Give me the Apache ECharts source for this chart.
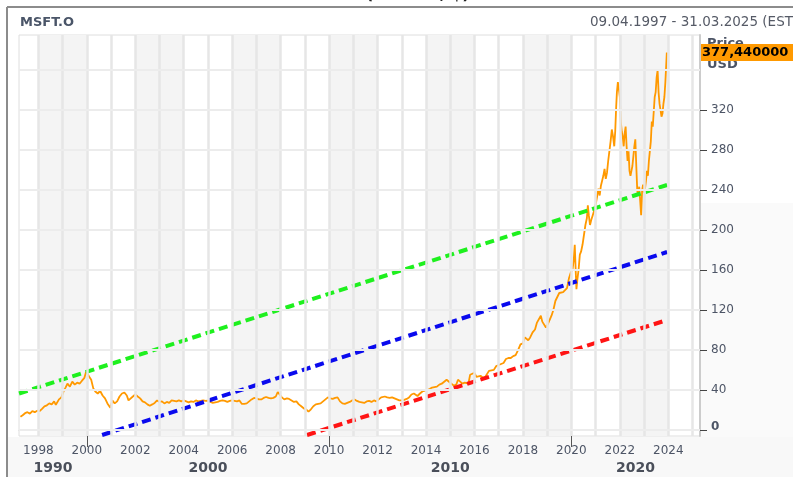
<!DOCTYPE html>
<html>
<head>
<meta charset="utf-8">
<script src="https://cdn.jsdelivr.net/npm/echarts@6/dist/echarts.min.js"></script>
<style>
html,body{margin:0;padding:0;background:#fff;}
#chartDiv{width:793px;height:477px;}
</style>
</head>
<body>
<div id="chartDiv"></div>
<script>
// MSFT.O close (decimal year / USD)
var priceYears = [1997.26,1997.35,1997.45,1997.55,1997.65,1997.75,1997.85,1997.95,1998.05,1998.15,1998.25,1998.35,1998.45,1998.55,1998.65,1998.72,1998.85,1998.95,
  1999.05,1999.12,1999.2,1999.3,1999.4,1999.5,1999.6,1999.7,1999.8,1999.9,1999.97,2000.02,2000.1,2000.18,2000.27,2000.35,2000.45,2000.55,2000.65,2000.75,2000.85,2000.97,
  2001.05,2001.15,2001.25,2001.35,2001.45,2001.55,2001.65,2001.72,2001.8,2001.9,2002.0,2002.1,2002.2,2002.3,2002.4,2002.5,2002.6,2002.7,2002.8,2002.9,
  2003.0,2003.1,2003.2,2003.3,2003.4,2003.5,2003.6,2003.7,2003.8,2003.9,2004.0,2004.1,2004.2,2004.3,2004.4,2004.5,2004.6,2004.7,2004.8,2004.9,
  2005.0,2005.1,2005.2,2005.3,2005.4,2005.5,2005.6,2005.7,2005.8,2005.9,2006.0,2006.1,2006.2,2006.3,2006.4,2006.5,2006.6,2006.7,2006.8,2006.9,
  2007.0,2007.1,2007.2,2007.3,2007.4,2007.5,2007.6,2007.7,2007.8,2007.88,2007.95,2008.05,2008.15,2008.26,2008.35,2008.45,2008.55,2008.65,2008.75,2008.85,2008.95,
  2009.05,2009.15,2009.25,2009.35,2009.45,2009.55,2009.65,2009.75,2009.85,2009.95,2010.05,2010.15,2010.25,2010.35,2010.45,2010.55,2010.65,2010.75,2010.85,2010.95,
  2011.05,2011.15,2011.25,2011.35,2011.45,2011.55,2011.65,2011.75,2011.85,2011.95,2012.05,2012.15,2012.22,2012.3,2012.4,2012.5,2012.6,2012.7,2012.8,2012.9,
  2013.0,2013.1,2013.2,2013.3,2013.4,2013.5,2013.58,2013.65,2013.75,2013.85,2013.95,2014.05,2014.15,2014.25,2014.35,2014.45,2014.55,2014.65,2014.75,2014.85,2014.95,
  2015.05,2015.15,2015.25,2015.32,2015.4,2015.5,2015.6,2015.68,2015.75,2015.82,2015.9,2016.0,2016.08,2016.15,2016.25,2016.35,2016.45,2016.5,2016.6,2016.7,2016.8,2016.9,
  2017.0,2017.1,2017.2,2017.3,2017.4,2017.5,2017.6,2017.7,2017.8,2017.9,2018.0,2018.08,2018.15,2018.22,2018.3,2018.4,2018.5,2018.58,2018.66,2018.74,2018.8,2018.87,2018.95,
  2019.02,2019.1,2019.18,2019.26,2019.34,2019.42,2019.5,2019.58,2019.66,2019.74,2019.82,2019.9,2019.98,2020.05,2020.1,2020.14,2020.18,2020.21,2020.25,2020.3,2020.35,2020.4,2020.46,2020.52,2020.58,2020.64,2020.68,2020.72,2020.77,2020.82,2020.87,2020.92,2020.97,
  2021.02,2021.07,2021.12,2021.17,2021.22,2021.27,2021.32,2021.37,2021.42,2021.47,2021.52,2021.57,2021.62,2021.67,2021.72,2021.77,2021.81,2021.85,2021.88,2021.92,2021.96,2022.0,
  2022.04,2022.08,2022.12,2022.16,2022.2,2022.24,2022.28,2022.32,2022.36,2022.4,2022.44,2022.48,2022.52,2022.56,2022.6,2022.64,2022.68,2022.72,2022.76,2022.8,2022.84,2022.88,2022.92,2022.96,
  2023.0,2023.04,2023.08,2023.12,2023.16,2023.2,2023.24,2023.28,2023.32,2023.36,2023.4,2023.44,2023.48,2023.52,2023.56,2023.6,2023.64,2023.68,2023.72,2023.76,2023.8,2023.84,2023.88,2023.91,2023.94];
var priceValues = [13.3,14.8,16.8,17.8,16.3,18.8,17.8,19.3,18.8,21.2,23.7,24.7,26.6,25.6,28.6,25.2,30.6,32.6,
  39.4,42.4,46.3,43.4,48.3,45.4,47.3,46.3,49.3,52.2,58.2,60.1,53.2,50.3,41.4,38.5,36.5,39,34.5,31.6,26.6,22.2,
  29.6,26.6,28.6,33.5,36.5,37.5,34.5,29.6,31.6,33.5,35.5,33.5,31.6,28.6,27.6,25.6,24.2,25.6,27.1,29.6,
  28.1,28.6,26.6,28.1,27.1,29.6,29.1,28.6,29.6,28.6,29.6,28.6,27.6,28.6,28.1,29.6,28.6,29.1,29.6,29.1,
  29.4,28.1,27.1,27.6,28.1,29.1,29.6,29.1,28.1,29.1,29.6,29.1,28.6,29.6,26.1,26.1,26.6,28.6,30.6,32.1,
  31.6,30.6,30.6,32.1,33,32.1,31.6,32.1,33.5,38,36.5,32.6,30.6,31.6,31.1,29.6,28.1,28.6,25.6,23.7,21.7,
  20.7,18.3,20.7,23.7,25.6,26.1,26.6,28.6,30.6,32.6,31.6,31.1,32.1,32.6,28.6,26.6,26.1,27.1,28.1,29.6,
  30.6,29.1,28.1,27.6,27.1,28.6,29.1,28.1,29.6,28.6,30.6,32.6,34.5,33.5,32.6,32.1,32.6,31.6,30.6,29.6,
  29.6,30.1,31.1,32.6,35.5,36.5,34.5,34,36.5,38.5,39.4,39.9,40.9,42.4,42.9,43.4,45.4,46.3,48.3,50.3,48.3,
  46.3,44.4,45.4,50.3,48.3,46.3,47.3,45.4,46.3,55.2,56.2,57.2,53.2,52.2,54.2,52.2,53.2,52.7,59.1,59.6,60.1,64,
  65,66,67,71,72,72,73.9,74.9,79.8,85.7,86.7,92.6,94.6,89.7,92.6,97.6,100.5,107.4,109.4,114.3,108.4,107.4,102.5,
  105.4,107.4,114.3,120.2,129,128,137,138.9,137.9,139.9,141.9,151.7,157.6,160.6,170.5,185.2,158.6,140.9,150.8,160.6,175.4,178.3,185.2,195,205,211.8,224.6,214.8,205,209.9,213.8,215.8,221.7,
  227.6,234.5,241.4,234.5,244.3,249.3,254.2,261.1,251.2,257.1,269,278.8,288.7,300.5,293.6,283.7,298.5,323.1,337.9,348,341,333,
  308.4,298.5,293.6,283.7,296.5,303.4,283.7,269,278.8,259.1,254.2,259.1,264,273.9,283.7,290.6,264,239.4,234.5,243.3,229.6,214.8,239.4,245.3,
  237.4,241.4,249.3,259.1,254.2,269,278.8,288.7,308.4,303.4,318.2,333,337.9,352.7,359.6,337.9,326.1,320.2,313.3,316.2,326.1,333,347.8,362.5,377.44];

// trend channel lines
var greenYears = [1997.2, 2023.95], greenValues = [36.5, 245];
var blueYears = [2000.63, 2023.95], blueValues = [-5, 178];
var redYears = [2009.09, 2023.95], redValues = [-5, 110];

var yearTicks = [1998,2000,2002,2004,2006,2008,2010,2012,2014,2016,2018,2020,2022,2024];
var yearLines = [1998,1999,2000,2001,2002,2003,2004,2005,2006,2007,2008,2009,2010,2011,2012,2013,2014,2015,2016,2017,2018,2019,2020,2021,2022,2023,2024,2025];
var shadedStarts = [1998,2002,2006,2010,2014,2018,2022];
var decadeLabels = ['1990','2000','2010','2020'];
var decadeCenters = [1998.6, 2005, 2015, 2022.65];
var decadeBounds = [2000, 2010, 2020];
var priceTicks = [0,40,80,120,160,200,240,280,320];
var priceLines = [0,40,80,120,160,200,240,280,320,360];
var lastPrice = 377.44;

var xMin = 1997.2, xMax = 2025.31, yMin = -6, yMax = 395;
var labelColor = '#4d5566';
var fontName = 'DejaVu Sans';

function zip(xs, ys) {
  var out = [];
  for (var i = 0; i < xs.length; ++i) out.push([xs[i], ys[i]]);
  return out;
}

function dashLine(name, xs, ys, color) {
  return {
    name: name,
    type: 'line',
    data: zip(xs, ys),
    symbol: 'none',
    z: 4,
    silent: true,
    lineStyle: {color: color, width: 4, type: [9, 5], cap: 'butt'}
  };
}

function echarts_msft() {
  var myChart = echarts.init(document.getElementById('chartDiv'), null, {renderer: 'canvas'});

  var areas = [];
  for (var i = 0; i < shadedStarts.length; ++i) {
    areas.push([{xAxis: shadedStarts[i]}, {xAxis: shadedStarts[i] + 2}]);
  }
  var gridMarks = [];
  for (var j = 0; j < yearLines.length; ++j) {
    gridMarks.push({xAxis: yearLines[j], lineStyle: {color: '#e6e6e6', width: 2.5, type: 'solid'}});
  }
  for (var k = 0; k < priceLines.length; ++k) {
    gridMarks.push({yAxis: priceLines[k], lineStyle: {color: '#ececec', width: 2, type: 'solid'}});
  }

  var option = {
    animation: false,
    textStyle: {fontFamily: fontName},
    title: [
      {text: 'MSFT.O', left: 20, top: 16, padding: 0,
        textStyle: {fontSize: 13, fontWeight: 'bold', color: '#4a5568', fontFamily: fontName}},
      {text: '09.04.1997 - 31.03.2025 (EST)', left: 590, top: 15, padding: 0,
        textStyle: {fontSize: 13.5, fontWeight: 'normal', color: '#555a66', fontFamily: fontName}},
      {text: '(MSFT.O, $)', left: 366, top: -13.5, padding: 0,
        textStyle: {fontSize: 16, fontWeight: 'bold', color: '#222', fontFamily: fontName}}
    ],
    graphic: [
      {type: 'rect', z: -10, shape: {x: 8, y: 437, width: 785, height: 40}, style: {fill: '#f8f8f8'}},
      {type: 'rect', z: -10, shape: {x: 701, y: 203, width: 92, height: 234}, style: {fill: '#fafafa'}},
      {type: 'line', z: 10, shape: {x1: 7, y1: 7, x2: 793, y2: 7}, style: {stroke: '#8c8c8c', lineWidth: 2}},
      {type: 'line', z: 10, shape: {x1: 7, y1: 7, x2: 7, y2: 477}, style: {stroke: '#8c8c8c', lineWidth: 2}},
      {type: 'text', z: 1, left: 707, top: 37, style: {text: 'Price', fill: labelColor, font: 'bold 13px "DejaVu Sans"'}},
      {type: 'text', z: 1, left: 707, top: 58, style: {text: 'USD', fill: labelColor, font: 'bold 13px "DejaVu Sans"'}}
    ],
    grid: {
      left: 19, right: 93, top: 35, bottom: 41,
      containLabel: false, outerBoundsMode: 'none',
      show: true, backgroundColor: '#fff', borderColor: '#dedede', borderWidth: 1
    },
    xAxis: [{
      type: 'value', min: xMin, max: xMax, position: 'bottom',
      splitLine: {show: false},
      axisLine: {show: true, lineStyle: {color: '#d6d6d6', width: 1}},
      axisTick: {show: true, customValues: yearTicks, length: 4, lineStyle: {color: '#555'}},
      axisLabel: {customValues: yearTicks, margin: 9, color: labelColor, fontSize: 12, fontFamily: fontName,
        formatter: function(v){ return String(v); }}
    }, {
      type: 'value', min: xMin, max: xMax, position: 'bottom', offset: 24,
      splitLine: {show: false},
      axisLine: {show: false},
      axisTick: {show: true, customValues: decadeBounds, length: 17, lineStyle: {color: '#555', width: 1}},
      axisLabel: {customValues: decadeCenters, margin: 1, color: '#4a4f5a', fontSize: 14, fontWeight: 'bold', fontFamily: fontName,
        formatter: function(v){
          for (var i = 0; i < decadeCenters.length; ++i) {
            if (Math.abs(decadeCenters[i] - v) < 0.01) return decadeLabels[i];
          }
          return '';
        }}
    }],
    yAxis: [{
      type: 'value', min: yMin, max: yMax, position: 'right', z: 3,
      splitLine: {show: false},
      axisLine: {show: true, lineStyle: {color: '#cccccc', width: 2}},
      axisTick: {show: true, customValues: priceTicks, length: 7, lineStyle: {color: '#444'}},
      axisLabel: {customValues: priceTicks, margin: 11, color: labelColor, fontSize: 12, fontFamily: fontName,
        formatter: function(v){ return v === 0 ? '{b|0}' : String(v); },
        rich: {b: {fontWeight: 'bold', fontSize: 12, color: labelColor, fontFamily: fontName, padding: [0, 0, 6, 0]}}}
    }, {
      type: 'value', min: yMin, max: yMax, position: 'right', z: 5,
      splitLine: {show: false}, axisLine: {show: false}, axisTick: {show: false},
      axisLabel: {customValues: [lastPrice], margin: 1, color: '#000', fontSize: 13, fontWeight: 'bold', fontFamily: fontName,
        backgroundColor: '#ff9900', padding: [2, 20, 2, 1],
        formatter: function(v){ return v.toFixed(6).replace('.', ','); }}
    }],
    series: [{
      name: 'grid',
      type: 'line',
      data: [],
      z: 1,
      silent: true,
      markArea: {silent: true, itemStyle: {color: '#f4f4f4'}, label: {show: false}, data: areas},
      markLine: {silent: true, symbol: 'none', label: {show: false}, data: gridMarks}
    }, {
      name: 'MSFT.O',
      type: 'line',
      data: zip(priceYears, priceValues),
      symbol: 'none',
      z: 3,
      lineStyle: {color: '#ff9900', width: 1.8}
    },
    dashLine('upper', greenYears, greenValues, '#1ef01e'),
    dashLine('middle', blueYears, blueValues, '#0a0aee'),
    dashLine('lower', redYears, redValues, '#ff1414')
    ]
  };

  myChart.setOption(option);
  window.addEventListener('resize', function(){
    myChart.resize();
  });
}

echarts_msft();
</script>
</body>
</html>
